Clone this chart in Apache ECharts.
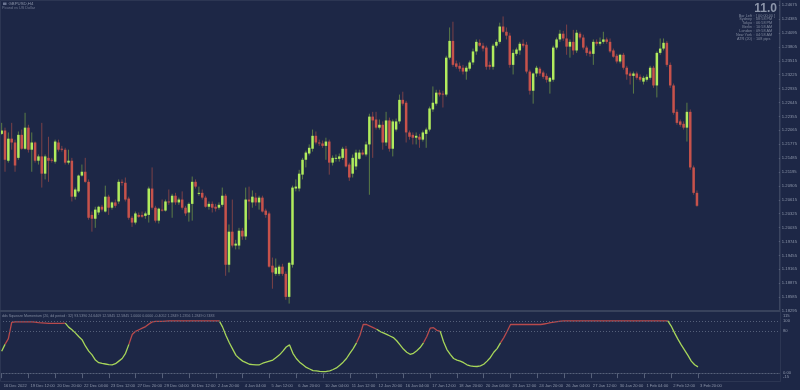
<!DOCTYPE html>
<html><head><meta charset="utf-8">
<script src="https://cdn.jsdelivr.net/npm/echarts@6.0.0/dist/echarts.min.js"></script>
<style>html,body{margin:0;padding:0;background:#1d2746;}#c{width:800px;height:390px;}</style>
</head><body><div id="c"></div>
<script>
// ---------- data ----------
const symbolTitle = "GBPUSD,H4";
const symbolSub = "Pound vs US Dollar";
const tickLabels = ["16 Dec 2022","19 Dec 12:00","20 Dec 20:00","22 Dec 04:00","23 Dec 12:00","27 Dec 20:00","29 Dec 04:00","30 Dec 12:00","2 Jan 20:00","4 Jan 04:00","5 Jan 12:00","6 Jan 20:00","10 Jan 04:00","11 Jan 12:00","12 Jan 20:00","16 Jan 04:00","17 Jan 12:00","18 Jan 20:00","20 Jan 04:00","23 Jan 12:00","24 Jan 20:00","26 Jan 04:00","27 Jan 12:00","30 Jan 20:00","1 Feb 04:00","2 Feb 12:00","3 Feb 20:00"];
const openP = [1.2199,1.2206,1.2143,1.2189,1.2181,1.2149,1.2197,1.2168,1.2212,1.2166,
1.2181,1.2143,1.2152,1.2116,1.2149,1.2145,1.2141,1.2181,1.2168,1.2166,
1.2139,1.2143,1.2068,1.2079,1.2112,1.2120,1.2099,1.2030,1.2022,1.2035,
1.2047,1.2037,1.2068,1.2045,1.2056,1.2058,1.2099,1.2097,1.2064,1.2024,
1.2014,1.2030,1.2030,1.2028,1.2030,1.2085,1.2045,1.2018,1.2041,1.2039,
1.2058,1.2056,1.2070,1.2056,1.2062,1.2045,1.2035,1.2053,1.2099,1.2074,
1.2076,1.2066,1.2047,1.2053,1.2047,1.2045,1.2051,1.2070,1.1926,1.1995,
1.1966,1.1966,1.1997,1.1985,1.2062,1.2056,1.2066,1.2056,1.2066,1.2039,
1.2033,1.1924,1.1907,1.1907,1.1922,1.1907,1.1859,1.1926,1.2085,1.2085,
1.2114,1.2145,1.2158,1.2168,1.2195,1.2181,1.2179,1.2174,1.2183,1.2139,
1.2147,1.2147,1.2149,1.2168,1.2135,1.2116,1.2131,1.2147,1.2160,1.2156,
1.2177,1.2235,1.2229,1.2212,1.2218,1.2181,1.2227,1.2168,1.2208,1.2225,
1.2270,1.2264,1.2202,1.2197,1.2191,1.2193,1.2187,1.2199,1.2208,1.2250,
1.2262,1.2285,1.2283,1.2281,1.2358,1.2393,1.2346,1.2341,1.2337,1.2329,
1.2335,1.2348,1.2371,1.2389,1.2383,1.2379,1.2343,1.2339,1.2383,1.2391,
1.2423,1.2412,1.2404,1.2343,1.2366,1.2373,1.2387,1.2385,1.2329,1.2289,
1.2325,1.2335,1.2327,1.2320,1.2308,1.2312,1.2379,1.2396,1.2408,1.2398,
1.2381,1.2391,1.2373,1.2408,1.2400,1.2379,1.2371,1.2366,1.2391,1.2387,
1.2391,1.2396,1.2391,1.2373,1.2362,1.2350,1.2364,1.2337,1.2325,1.2320,
1.2325,1.2318,1.2308,1.2312,1.2316,1.2337,1.2300,1.2368,1.2377,1.2389,
1.2343,1.2300,1.2245,1.2225,1.2220,1.2212,1.2245,1.2129,1.2076];
const highP = [1.2222,1.2212,1.2202,1.2222,1.2187,1.2204,1.2208,1.2243,1.2218,1.2202,
1.2183,1.2156,1.2222,1.2156,1.2193,1.2149,1.2187,1.2187,1.2174,1.2170,
1.2166,1.2149,1.2087,1.2114,1.2135,1.2149,1.2104,1.2037,1.2047,1.2049,
1.2051,1.2091,1.2072,1.2058,1.2062,1.2104,1.2104,1.2108,1.2068,1.2028,
1.2037,1.2035,1.2037,1.2037,1.2089,1.2129,1.2049,1.2045,1.2062,1.2062,
1.2083,1.2074,1.2076,1.2066,1.2079,1.2049,1.2056,1.2110,1.2104,1.2089,
1.2083,1.2070,1.2058,1.2058,1.2053,1.2056,1.2087,1.2074,1.2010,1.2062,
1.1978,1.2003,1.2003,1.2087,1.2089,1.2081,1.2076,1.2070,1.2070,1.2043,
1.2037,1.1941,1.1939,1.1926,1.1928,1.1912,1.1932,1.2091,1.2104,1.2124,
1.2149,1.2164,1.2177,1.2208,1.2204,1.2187,1.2185,1.2191,1.2187,1.2154,
1.2156,1.2158,1.2172,1.2174,1.2139,1.2156,1.2166,1.2166,1.2166,1.2183,
1.2241,1.2245,1.2245,1.2229,1.2225,1.2245,1.2233,1.2229,1.2231,1.2281,
1.2287,1.2268,1.2206,1.2202,1.2202,1.2199,1.2206,1.2212,1.2256,1.2298,
1.2291,1.2291,1.2289,1.2362,1.2421,1.2433,1.2352,1.2348,1.2343,1.2341,
1.2352,1.2377,1.2396,1.2396,1.2389,1.2383,1.2350,1.2387,1.2396,1.2431,
1.2444,1.2421,1.2410,1.2375,1.2379,1.2391,1.2396,1.2391,1.2333,1.2327,
1.2341,1.2339,1.2331,1.2325,1.2318,1.2383,1.2400,1.2416,1.2414,1.2427,
1.2396,1.2416,1.2416,1.2412,1.2406,1.2383,1.2375,1.2396,1.2396,1.2400,
1.2412,1.2400,1.2398,1.2377,1.2366,1.2366,1.2368,1.2341,1.2329,1.2329,
1.2329,1.2323,1.2320,1.2323,1.2341,1.2341,1.2371,1.2398,1.2398,1.2393,
1.2348,1.2304,1.2250,1.2229,1.2225,1.2264,1.2250,1.2133,1.2081];
const lowP = [1.2197,1.2120,1.2139,1.2166,1.2120,1.2145,1.2166,1.2166,1.2160,1.2120,
1.2139,1.2135,1.2087,1.2104,1.2099,1.2139,1.2137,1.2162,1.2162,1.2135,
1.2135,1.2058,1.2062,1.2076,1.2110,1.2097,1.2020,1.1995,1.2003,1.2030,
1.2037,1.2035,1.2030,1.2041,1.2045,1.2053,1.2091,1.2058,1.2020,1.2005,
1.2010,1.2024,1.2024,1.2022,1.2014,1.2041,1.2014,1.2012,1.2037,1.2037,
1.2051,1.2024,1.2051,1.2051,1.2041,1.2028,1.2016,1.2018,1.2085,1.2070,
1.2062,1.2045,1.2041,1.2035,1.2037,1.2041,1.2047,1.1903,1.1910,1.1962,
1.1958,1.1958,1.1978,1.1978,1.2020,1.2045,1.2049,1.2041,1.2035,1.2024,
1.1920,1.1876,1.1903,1.1903,1.1903,1.1853,1.1845,1.1920,1.2079,1.2079,
1.2104,1.2129,1.2154,1.2162,1.2177,1.2174,1.2170,1.2145,1.2114,1.2133,
1.2141,1.2141,1.2145,1.2129,1.2101,1.2108,1.2124,1.2145,1.2154,1.2152,
1.2072,1.2149,1.2208,1.2208,1.2166,1.2174,1.2162,1.2152,1.2204,1.2220,
1.2258,1.2181,1.2187,1.2177,1.2177,1.2170,1.2183,1.2170,1.2204,1.2245,
1.2258,1.2277,1.2254,1.2277,1.2354,1.2339,1.2335,1.2329,1.2323,1.2312,
1.2331,1.2343,1.2364,1.2381,1.2371,1.2333,1.2333,1.2333,1.2379,1.2387,
1.2410,1.2396,1.2337,1.2323,1.2362,1.2364,1.2379,1.2325,1.2281,1.2262,
1.2318,1.2320,1.2314,1.2306,1.2283,1.2308,1.2375,1.2391,1.2393,1.2364,
1.2358,1.2364,1.2368,1.2396,1.2375,1.2362,1.2360,1.2343,1.2383,1.2383,
1.2387,1.2387,1.2368,1.2358,1.2346,1.2346,1.2333,1.2312,1.2302,1.2283,
1.2312,1.2308,1.2302,1.2308,1.2312,1.2295,1.2275,1.2364,1.2373,1.2339,
1.2295,1.2239,1.2218,1.2214,1.2208,1.2183,1.2124,1.2072,1.2047];
const closeP = [1.2206,1.2145,1.2189,1.2181,1.2133,1.2197,1.2168,1.2212,1.2166,1.2181,
1.2143,1.2152,1.2116,1.2152,1.2143,1.2143,1.2183,1.2166,1.2166,1.2139,
1.2143,1.2068,1.2083,1.2112,1.2120,1.2099,1.2024,1.2022,1.2041,1.2047,
1.2041,1.2068,1.2045,1.2056,1.2049,1.2099,1.2097,1.2062,1.2024,1.2014,
1.2033,1.2026,1.2026,1.2033,1.2085,1.2045,1.2018,1.2043,1.2039,1.2058,
1.2056,1.2070,1.2056,1.2062,1.2045,1.2033,1.2053,1.2099,1.2089,1.2076,
1.2066,1.2047,1.2053,1.2045,1.2043,1.2051,1.2070,1.1926,1.1995,1.1966,
1.1970,1.1997,1.1985,1.2062,1.2058,1.2068,1.2056,1.2066,1.2037,1.2030,
1.1922,1.1910,1.1920,1.1922,1.1907,1.1859,1.1930,1.2087,1.2089,1.2116,
1.2145,1.2160,1.2170,1.2195,1.2181,1.2179,1.2174,1.2183,1.2139,1.2149,
1.2149,1.2152,1.2168,1.2131,1.2108,1.2149,1.2160,1.2160,1.2156,1.2177,
1.2235,1.2227,1.2212,1.2218,1.2181,1.2227,1.2168,1.2225,1.2225,1.2270,
1.2262,1.2202,1.2193,1.2191,1.2195,1.2187,1.2202,1.2208,1.2252,1.2264,
1.2285,1.2281,1.2281,1.2358,1.2393,1.2343,1.2339,1.2335,1.2329,1.2337,
1.2348,1.2371,1.2391,1.2383,1.2377,1.2339,1.2339,1.2383,1.2391,1.2423,
1.2412,1.2404,1.2343,1.2368,1.2375,1.2387,1.2383,1.2329,1.2289,1.2325,
1.2337,1.2325,1.2318,1.2312,1.2316,1.2379,1.2396,1.2408,1.2398,1.2381,
1.2391,1.2373,1.2410,1.2400,1.2379,1.2368,1.2366,1.2391,1.2387,1.2391,
1.2396,1.2391,1.2371,1.2360,1.2350,1.2364,1.2337,1.2323,1.2320,1.2325,
1.2316,1.2312,1.2316,1.2318,1.2337,1.2300,1.2368,1.2377,1.2389,1.2343,
1.2300,1.2243,1.2222,1.2218,1.2212,1.2245,1.2129,1.2076,1.2049];
const momentum = [42,55,66,97,98,98,98,98,98,98,
97.5,96.5,96,95.5,95,95,95,95,95,95.5,
88,83,77,70,64,52,42,35,25,20,
18.5,17.5,16.5,16,18,23,28,38,55,74,
80,83,86,89,94,98,99,99,99,99.5,
100,100,100,100,100,100,100,100,100,100,
100,100,100,100,100,100,88,72,58,46,
34,28,23,20,17,16.5,16,16,19,21,
23,25,30,35,42,50,54,38,28,21,
16,11,8,5,4.4,3.5,3,3.2,4.5,7,
10,15,21,28,38,47,58,72,93,93,
90,87,84,80,77,74,71,68,62,54,
46,40,36,38,43,49,58,70,86,87,
82,80,60,45,36,28,25,23,20,16,
14,13,12.7,14,17,23,30,40,47,58,
68,80,93,93,93,93,93,93,93,93,
93,93,94,95,96.5,97.5,98.5,99.5,100,100,
100,100,100,100,100,100,100,100,100,100,
100,100,100,100,100,100,100,100,100,100,
100,100,100,100,100,100,100,100,100,100,
90,77,65,54,44,34,23,16,12];
// colour state runs of the momentum line: [bar count, 1 = red / 0 = green]
const stateRuns = [[2,0],[18,1],[19,0],[27,1],[41,0],[6,1],[14,0],[5,1],[18,0],[50,1],[9,0]];
const levels = [100, 80, 0];
const levelLabels = ["100", "80", "0.00"];
const momTitle = "dds Squeeze Momentum (20, dd period : 32) 93.5390 24.6409 12.5845 12.5845 1.0000 0.0000 -0.4052 1.2849 1.2356 1.2849 0.7483";
const infoLabels = ["Bar Left","Sydney","Tokyo","Berlin","London","New York","ATR (20)"];
const infoValues = ["[ 00:00:00 ]","08:58 PM","06:58 PM","10:58 AM","09:58 AM","04:58 AM","108 pips"];
const bigValue = "11.0";

// ---------- build ----------
const N = openP.length;
const SLOTS = 233;
const cats = Array.from({length: SLOTS}, (_, i) => String(i));
const state = [];
stateRuns.forEach(r => { for (let k = 0; k < r[0]; k++) state.push(r[1]); });
const redLine = momentum.map((v, i) => (state[i] === 1 || state[i + 1] === 1) ? v : null);
const greenLine = momentum.map((v, i) => (state[i] === 0 || state[i + 1] === 0) ? v : null);
const candleData = openP.map((o, i) => [i, o, closeP[i], lowP[i], highP[i]]);

const C = {
  bg: '#1d2746', txt: '#8d96aa', axis: '#3b4560',
  upBody: '#b1ec5d', dnBody: '#c7524b', upWick: '#5b7c46', dnWick: '#7b4147',
  momRed: '#b84a4c', momGreen: '#a7d65a', level: '#55607a'
};
const FONT = 'Liberation Sans';

function renderCandle(params, api) {
  const i = api.value(0), o = api.value(1), c = api.value(2), l = api.value(3), h = api.value(4);
  const pO = api.coord([i, o]), pC = api.coord([i, c]);
  const pL = api.coord([i, l]), pH = api.coord([i, h]);
  const up = c >= o;
  const bw = 2.5;
  const top = Math.min(pO[1], pC[1]), bot = Math.max(pO[1], pC[1]);
  return { type: 'group', children: [
    { type: 'line', shape: { x1: pO[0], y1: pH[1], x2: pO[0], y2: pL[1] },
      style: { stroke: up ? C.upWick : C.dnWick, lineWidth: 1 } },
    { type: 'rect', shape: { x: pO[0] - bw / 2, y: top, width: bw, height: Math.max(bot - top, 1) },
      style: { fill: up ? C.upBody : C.dnBody } }
  ]};
}

const graphics = [
  { type: 'rect', shape: { x: 0, y: 310, width: 780, height: 2 }, style: { fill: '#38425c' }, z: 10 },
  { type: 'rect', shape: { x: 0.5, y: 0.5, width: 780, height: 381 }, style: { fill: null, stroke: '#2c3653', lineWidth: 1 }, z: 9 },
  { type: 'rect', shape: { x: 3, y: 2.5, width: 3.5, height: 2.5 }, style: { fill: '#6b7591' }, z: 10 },
  { type: 'text', x: 8.5, y: 1.8, style: { text: symbolTitle, fill: C.txt, font: '4.3px ' + FONT }, z: 10 },
  { type: 'text', x: 2, y: 6.3, style: { text: symbolSub, fill: '#6f7890', font: '3.8px ' + FONT }, z: 10 },
  { type: 'text', x: 777, y: 3, style: { text: bigValue, fill: C.txt, font: 'bold 12px ' + FONT, align: 'right' }, z: 10 },
  { type: 'text', x: 2, y: 314, style: { text: momTitle, fill: '#7f889d', font: '3.6px ' + FONT }, z: 10 }
];
infoLabels.forEach((t, k) => {
  const y = 13.5 + k * 3.85;
  graphics.push({ type: 'text', x: 752, y: y, style: { text: t, fill: '#7f889d', font: '3.8px ' + FONT, align: 'right' }, z: 10 });
  graphics.push({ type: 'text', x: 753.5, y: y, style: { text: ':', fill: '#7f889d', font: '3.8px ' + FONT }, z: 10 });
  graphics.push({ type: 'text', x: 756, y: y, style: { text: infoValues[k], fill: '#7f889d', font: '3.8px ' + FONT }, z: 10 });
});

const chart = echarts.init(document.getElementById('c'), null, { renderer: 'canvas', width: 800, height: 390 });
chart.setOption({
  backgroundColor: C.bg,
  animation: false,
  textStyle: { fontFamily: FONT },
  grid: [
    { left: 0, right: 20, top: 0, height: 311 },
    { left: 0, right: 20, top: 313, height: 68 }
  ],
  xAxis: [
    { type: 'category', gridIndex: 0, data: cats, boundaryGap: true, show: false },
    { type: 'category', gridIndex: 1, data: cats, boundaryGap: true,
      axisLine: { show: true, lineStyle: { color: C.axis } },
      axisTick: { show: true, alignWithLabel: true, length: 5, lineStyle: { color: '#56607a' },
        interval: (idx) => idx % 8 === 0 && idx < N },
      axisLabel: { show: true, interval: (idx) => idx % 8 === 0 && idx < N, hideOverlap: false,
        showMinLabel: true,
        formatter: (v, idx) => tickLabels[Math.round(idx / 8)] || '',
        align: 'left', padding: [0, 0, 0, 2], fontSize: 4.1, color: C.txt, margin: 2.5, fontFamily: FONT },
      splitLine: { show: false } }
  ],
  yAxis: [
    { type: 'value', gridIndex: 0, position: 'right', min: 1.18295, max: 1.24783, interval: 0.0029, scale: true,
      axisLine: { show: true, lineStyle: { color: C.axis } },
      axisTick: { show: true, length: 2, lineStyle: { color: '#56607a' } },
      axisLabel: { show: true, fontSize: 4.2, color: C.txt, margin: 3, showMaxLabel: false, fontFamily: FONT,
        formatter: (v) => v.toFixed(5) },
      splitLine: { show: false } },
    { type: 'value', gridIndex: 1, position: 'right', min: -15, max: 115, interval: 130,
      axisLine: { show: true, lineStyle: { color: C.axis } },
      axisTick: { show: false },
      axisLabel: { show: true, fontSize: 4.2, color: C.txt, margin: 3, fontFamily: FONT,
        formatter: (v) => v > 0 ? '{t|' + v + '}' : '{b|' + v + '}',
        rich: { t: { fontSize: 4.2, color: C.txt, padding: [5, 0, 0, 0] }, b: { fontSize: 4.2, color: C.txt, padding: [0, 0, 8, 0] } } },
      splitLine: { show: false } }
  ],
  series: [
    { type: 'custom', name: 'price', xAxisIndex: 0, yAxisIndex: 0, data: candleData,
      encode: { x: 0, y: [1, 2, 3, 4] }, renderItem: renderCandle, z: 3,
      markLine: { silent: true, symbol: 'none', lineStyle: { opacity: 0 },
        data: [{ yAxis: closeP[N - 1] }],
        label: { show: true, position: 'end', distance: 1, formatter: () => closeP[N - 1].toFixed(5),
          backgroundColor: '#8e98ac', color: '#1d2746', fontSize: 4.2, padding: [1, 2, 0.5, 2], fontFamily: FONT } } },
    { type: 'line', name: 'momRed', xAxisIndex: 1, yAxisIndex: 1, data: redLine, showSymbol: false,
      connectNulls: false, lineStyle: { color: C.momRed, width: 1.3 }, itemStyle: { color: C.momRed }, z: 4 },
    { type: 'line', name: 'momGreen', xAxisIndex: 1, yAxisIndex: 1, data: greenLine, showSymbol: false,
      connectNulls: false, lineStyle: { color: C.momGreen, width: 1.3 }, itemStyle: { color: C.momGreen }, z: 4,
      markLine: { silent: true, symbol: 'none',
        lineStyle: { color: C.level, type: [1, 2], width: 1 },
        data: levels.map((v, k) => ({ yAxis: v, label: { formatter: levelLabels[k] } })),
        label: { show: true, position: 'end', distance: 3, fontSize: 4.2, color: C.txt, fontFamily: FONT } } }
  ],
  graphic: graphics
});
</script></body></html>
